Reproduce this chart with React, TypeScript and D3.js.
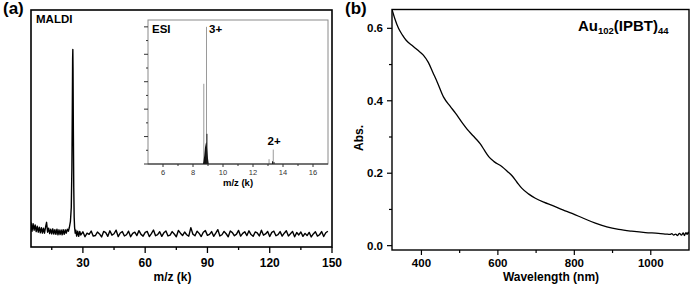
import * as React from 'react';
import * as d3 from 'd3';

// MALDI spectrum (m/z in k, relative intensity)
const maldiMz = [
  5, 5.5, 6, 6.5, 7, 7.5, 8, 8.5, 9, 9.5, 10, 10.5, 11, 11.5, 12, 12.5, 13, 13.5, 14, 14.5,
  15, 15.5, 16, 16.5, 17, 17.5, 18, 18.5, 19, 19.5, 20, 20.5, 21, 21.5, 22, 22.5, 23, 23.5,
  24, 24.4, 24.7, 24.9, 25.05, 25.15, 25.25, 25.4, 25.6, 25.8, 26, 26.3, 26.6, 27, 27.5, 28, 28.5,
  29, 30, 31, 32, 33, 34, 35, 36, 37, 38, 39, 40, 41, 42, 43, 44, 45, 46, 47, 48, 49, 50,
  51, 52, 53, 54, 55, 56, 57, 58, 59, 60, 61, 62, 63, 64, 65, 66, 67, 68, 69, 70,
  71, 72, 73, 74, 75, 76, 77, 78, 79, 80, 81, 82, 83, 84, 85, 86, 87, 88, 89, 90,
  91, 92, 93, 94, 95, 96, 97, 98, 99, 100, 101, 102, 103, 104, 105, 106, 107, 108, 109, 110,
  111, 112, 113, 114, 115, 116, 117, 118, 119, 120, 121, 122, 123, 124, 125, 126, 127, 128, 129, 130,
  131, 132, 133, 134, 135, 136, 137, 138, 139, 140, 141, 142, 143, 144, 145, 146, 147, 148, 149, 150,
];
const maldiInt = [
  .125, .08, .118, .085, .112, .078, .105, .075, .1, .072, .098, .07, .095, .07, .1, .125, .075, .095, .068, .09,
  .066, .092, .065, .088, .064, .09, .062, .087, .063, .086, .062, .088, .064, .087, .07, .09, .08, .1,
  .13, .2, .4, .7, .95, 1.0, .9, .6, .3, .15, .1, .07, .085, .055, .08, .054, .079,
  .061, .077, .052, .07, .064, .081, .055, .058, .076, .066, .051, .079, .073, .054, .082, .06, .067, .085, .053, .071,
  .078, .056, .062, .08, .052, .069, .075, .058, .083, .064, .055, .074, .079, .053, .068, .086, .057, .063, .077, .054,
  .072, .081, .056, .06, .078, .066, .052, .084, .07, .058, .076, .062, .055, .098, .065, .057, .08, .069, .053, .075,
  .083, .059, .064, .078, .054, .07, .088, .056, .062, .079, .067, .052, .081, .073, .057, .065, .084, .055, .069, .077,
  .058, .082, .063, .054, .076, .071, .056, .085, .06, .066, .079, .053, .074, .08, .057, .063, .078, .055, .07, .082,
  .056, .067, .079, .052, .073, .061, .076, .054, .069, .058, .074, .051, .066, .077, .055, .062, .078, .053, .072, .08,
];

// ESI inset (m/z in k)
const esiGreyMz = [8.72, 8.76, 8.9, 13.07, 13.35];
const esiGreyInt = [0.585, 0.05, 1.0, 0.035, 0.105];
const esiClusterMz = [8.66, 8.7, 8.75, 8.8, 8.85, 8.9, 8.95, 9.0, 9.05];
const esiClusterInt = [0, 0.02, 0.06, 0.12, 0.15, 0.16, 0.1, 0.04, 0];
const esiBlackMz = [8.93, 13.3, 13.4];
const esiBlackInt = [0.22, 0.02, 0.015];

// UV-vis absorption
const wavelength = [
  323, 330, 340, 350, 360, 375, 390, 405, 418, 430, 442, 458, 475, 489, 505, 524, 540, 554, 565, 576,
  590, 611, 625, 637, 650, 663, 680, 698, 720, 742, 770, 794, 825, 855, 885, 916, 950, 986, 1020, 1040,
  1050, 1055, 1060, 1065, 1070, 1075, 1080, 1085, 1088, 1092, 1095, 1098, 1100,
];
const absorbance = [
  0.652, 0.628, 0.6, 0.582, 0.567, 0.553, 0.54, 0.526, 0.506, 0.478, 0.45, 0.41, 0.385, 0.366, 0.342, 0.316, 0.298, 0.281, 0.263, 0.246,
  0.232, 0.218, 0.205, 0.193, 0.175, 0.158, 0.143, 0.131, 0.12, 0.111, 0.099, 0.089, 0.075, 0.062, 0.052, 0.045, 0.04, 0.036, 0.034, 0.032,
  0.031, 0.033, 0.029, 0.032, 0.028, 0.034, 0.029, 0.035, 0.028, 0.036, 0.031, 0.037, 0.033,
];

const maldiMajor = [30, 60, 90, 120, 150];
const maldiMinor = [15, 45, 75, 105, 135];
const esiMajor = [6, 8, 10, 12, 14, 16];
const esiMinor = [7, 9, 11, 13, 15];
const esiYMajor = [0, 0.2, 0.4, 0.6, 0.8, 1.0];
const esiYMinor = [0.1, 0.3, 0.5, 0.7, 0.9];
const uvMajor = [400, 600, 800, 1000];
const uvMinor = [500, 700, 900];
const absMajor = [0, 0.2, 0.4, 0.6];
const absMinor = [0.1, 0.3, 0.5];

const FONT = '"Liberation Sans", Arial, sans-serif';

export default function App() {
  // panel (a)
  const ax = d3.scaleLinear().domain([5, 150]).range([31, 332]);
  const ay = d3.scaleLinear().domain([0, 1.2]).range([247, 10]);
  const maldiLine = d3.line<number>()
    .x((_, i) => ax(maldiMz[i]))
    .y((d) => ay(d));

  // inset
  const ix = d3.scaleLinear().domain([5, 17]).range([148, 328]);
  const iy = d3.scaleLinear().domain([0, 1.05]).range([164, 20]);
  const clusterArea = d3.area<number>()
    .x((_, i) => ix(esiClusterMz[i]))
    .y0(iy(0))
    .y1((d) => iy(d));

  // panel (b)
  const bx = d3.scaleLinear().domain([323, 1100]).range([392, 689]);
  const by = d3.scaleLinear().domain([-0.012, 0.652]).range([250, 9.5]);
  const uvLine = d3.line<number>()
    .x((_, i) => bx(wavelength[i]))
    .y((d) => by(d))
    .curve(d3.curveMonotoneX);

  const fmt = d3.format('.1f');

  return (
    <svg width={692} height={288} style={{ position: 'absolute', left: 0, top: 0 }} fontFamily={FONT}>
      <rect width={692} height={288} fill="#fff" />

      {/* ---------- (a) ---------- */}
      <text x={3} y={14} fontSize={17} fontWeight="bold">(a)</text>
      <clipPath id="clipA"><rect x={31} y={10} width={301} height={237} /></clipPath>
      <g clipPath="url(#clipA)">
        <path d={maldiLine(maldiInt)!} fill="none" stroke="#000" strokeWidth={1.4} strokeLinejoin="round" />
      </g>
      <rect x={31} y={10} width={301} height={237} fill="none" stroke="#000" strokeWidth={1.6} />
      <text x={36} y={23} fontSize={11.5} fontWeight="bold">MALDI</text>
      {maldiMajor.map((t) => (
        <g key={t} transform={translate(ax(t), 247)}>
          <line y2={6} stroke="#000" strokeWidth={1.3} />
          <text y={19.5} textAnchor="middle" fontSize={12} fontWeight="bold">{t}</text>
        </g>
      ))}
      {maldiMinor.map((t) => (
        <line key={t} x1={ax(t)} x2={ax(t)} y1={247} y2={250} stroke="#000" strokeWidth={1.3} />
      ))}
      <text x={172.5} y={281} textAnchor="middle" fontSize={12} fontWeight="bold">m/z (k)</text>

      {/* inset */}
      <rect x={148} y={20} width={180} height={144} fill="#fff" stroke="#8a8a8a" strokeWidth={1} />
      {esiGreyMz.map((m, i) => (
        <line key={i} x1={ix(m)} x2={ix(m)} y1={iy(0)} y2={iy(esiGreyInt[i])} stroke="#9a9a9a" strokeWidth={1} />
      ))}
      <path d={clusterArea(esiClusterInt)!} fill="#111" />
      {esiBlackMz.map((m, i) => (
        <line key={i} x1={ix(m)} x2={ix(m)} y1={iy(0)} y2={iy(esiBlackInt[i])} stroke="#222" strokeWidth={1} />
      ))}
      <line x1={148} x2={328} y1={164} y2={164} stroke="#222" strokeWidth={1.2} />
      {esiYMajor.map((t) => (
        <line key={t} x1={144} x2={148} y1={iy(t)} y2={iy(t)} stroke="#333" strokeWidth={1} />
      ))}
      {esiYMinor.map((t) => (
        <line key={t} x1={146} x2={148} y1={iy(t)} y2={iy(t)} stroke="#333" strokeWidth={1} />
      ))}
      {esiMajor.map((t) => (
        <g key={t} transform={translate(ix(t), 164)}>
          <line y2={3} stroke="#333" strokeWidth={1} />
          <text y={10.5} textAnchor="middle" fontSize={7.5} fill="#333">{t}</text>
        </g>
      ))}
      {esiMinor.map((t) => (
        <line key={t} x1={ix(t)} x2={ix(t)} y1={164} y2={166} stroke="#333" strokeWidth={1} />
      ))}
      <text x={152} y={33} fontSize={11.5} fontWeight="bold">ESI</text>
      <text x={209} y={33} fontSize={11.5} fontWeight="bold">3+</text>
      <text x={267.5} y={145} fontSize={11.5} fontWeight="bold">2+</text>
      <text x={238} y={186} textAnchor="middle" fontSize={9.5} fontWeight="bold">m/z (k)</text>

      {/* ---------- (b) ---------- */}
      <text x={345} y={14} fontSize={17} fontWeight="bold">(b)</text>
      <clipPath id="clipB"><rect x={392} y={9.5} width={297} height={240.5} /></clipPath>
      <g clipPath="url(#clipB)">
        <path d={uvLine(absorbance)!} fill="none" stroke="#000" strokeWidth={1.3} />
      </g>
      <rect x={392} y={9.5} width={297} height={240.5} fill="none" stroke="#000" strokeWidth={1.4} />
      {uvMajor.map((t) => (
        <g key={t} transform={translate(bx(t), 250)}>
          <line y2={5} stroke="#000" strokeWidth={1.2} />
          <text y={17} textAnchor="middle" fontSize={11.5} fontWeight="bold">{t}</text>
        </g>
      ))}
      {uvMinor.map((t) => (
        <line key={t} x1={bx(t)} x2={bx(t)} y1={250} y2={253} stroke="#000" strokeWidth={1.2} />
      ))}
      {absMajor.map((t) => (
        <g key={t} transform={translate(392, by(t))}>
          <line x2={-5} stroke="#000" strokeWidth={1.2} />
          <text x={-9} y={4} textAnchor="end" fontSize={11.5} fontWeight="bold">{fmt(t)}</text>
        </g>
      ))}
      {absMinor.map((t) => (
        <line key={t} x1={389} x2={392} y1={by(t)} y2={by(t)} stroke="#000" strokeWidth={1.2} />
      ))}
      <text x={551} y={281} textAnchor="middle" fontSize={12} fontWeight="bold">Wavelength (nm)</text>
      <text transform="translate(363,138) rotate(-90)" textAnchor="middle" fontSize={12} fontWeight="bold">Abs.</text>
      <text x={578} y={31} fontSize={15} fontWeight="bold">
        Au<tspan fontSize={9.5} dy={3}>102</tspan><tspan dy={-3}>(IPBT)</tspan><tspan fontSize={9.5} dy={3}>44</tspan>
      </text>
    </svg>
  );
}

function translate(x: number, y: number) {
  return `translate(${x}, ${y})`;
}
